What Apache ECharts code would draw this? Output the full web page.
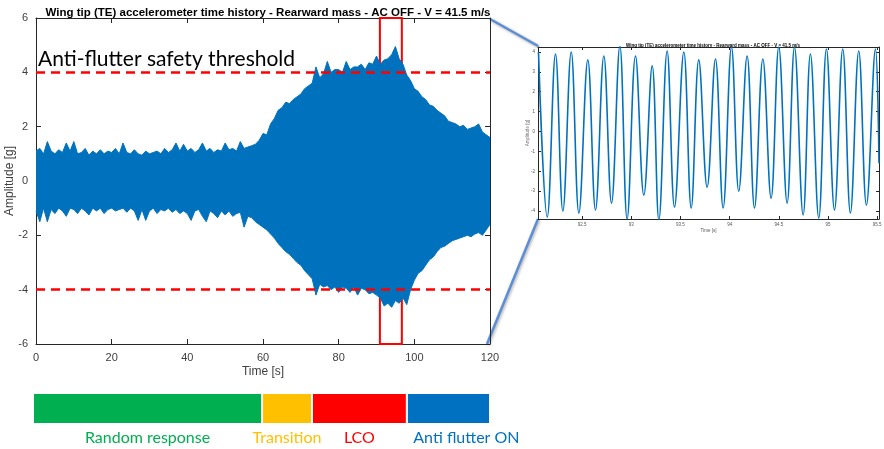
<!DOCTYPE html>
<html>
<head>
<meta charset="utf-8">
<script src="https://cdn.jsdelivr.net/npm/echarts@6/dist/echarts.min.js"></script>
<style>
    html, body { margin: 0; padding: 0; background: #fff; }
    #main { width: 884px; height: 449px; }
</style>
</head>
<body>
<div id="main"></div>
<script>
const BLUE = '#0072BD';

// envelope of the accelerometer signal, one value per second (t = 0..120 s)
const envTime = [];
for (let t = 0; t <= 120; t++) envTime.push(t);

const envUpper = [
    1.1, 1.2, 1.0, 1.45, 1.1, 1.0, 1.15, 1.05, 1.4, 1.1,
    1.45, 1.0, 1.05, 1.2, 0.95, 1.1, 1.0, 1.15, 1.0, 1.1,
    1.05, 1.2, 1.0, 1.4, 1.05, 1.0, 1.15, 1.0, 0.95, 1.1,
    1.0, 1.05, 1.1, 1.0, 1.2, 1.05, 1.15, 1.4, 1.1, 1.35,
    1.1, 1.2, 1.05, 1.15, 1.4, 1.1, 1.2, 1.05, 1.15, 1.1,
    1.4, 1.15, 1.2, 1.1, 1.45, 1.2, 1.25, 1.3, 1.35, 1.5,
    1.75, 1.7, 2.1, 2.3, 2.6, 2.7, 2.9, 2.85, 3.0, 3.1,
    3.2, 3.4, 3.5, 3.6, 4.2, 3.8, 3.95, 4.4, 4.0, 4.1,
    4.1, 4.0, 4.4, 4.1, 4.2, 4.2, 4.3, 4.1, 4.35, 4.3,
    4.6, 4.3, 4.45, 4.5, 4.65, 4.95, 4.5, 4.3, 3.9, 3.7,
    3.4, 3.3, 3.1, 3.0, 2.8, 2.75, 2.6, 2.5, 2.4, 2.2,
    2.15, 2.1, 2.0, 2.05, 1.9, 1.95, 2.0, 2.1, 1.8, 1.7,
    1.6
];

const envLower = [
    -1.1, -1.5, -1.0, -1.5, -1.05, -1.2, -1.0, -1.1, -1.3, -1.0,
    -1.05, -1.2, -1.0, -1.1, -1.25, -1.0, -1.1, -1.0, -1.2, -1.05,
    -1.0, -1.1, -1.05, -1.0, -1.15, -1.0, -1.1, -1.45, -1.05, -1.45,
    -1.1, -1.0, -1.2, -1.05, -1.1, -1.0, -1.15, -1.05, -1.2, -1.1,
    -1.2, -1.45, -1.1, -1.05, -1.3, -1.5, -1.1, -1.2, -1.35, -1.1,
    -1.25, -1.1, -1.3, -1.2, -1.15, -1.7, -1.3, -1.35, -1.5, -1.6,
    -1.7, -1.8, -1.95, -2.1, -2.3, -2.45, -2.6, -2.7, -2.85, -3.0,
    -3.1, -3.3, -3.45, -3.6, -4.2, -3.8, -3.9, -3.85, -4.0, -3.9,
    -4.1, -3.9, -3.95, -4.1, -3.9, -4.2, -3.95, -4.0, -4.15, -4.1,
    -4.2, -4.3, -4.6, -4.5, -4.65, -4.4, -4.5, -4.3, -4.55, -4.0,
    -3.65, -3.4, -3.3, -3.1, -2.9, -2.8, -2.6, -2.45, -2.4, -2.3,
    -2.2, -2.15, -2.1, -2.05, -2.0, -2.05, -1.95, -1.9, -2.0, -1.8,
    -1.6
];

const threshold = 4;
const zoomWindow = [90.9, 96.7];

// LCO detail (peaks and troughs)
const lcoTime = [
    92.055, 92.144, 92.228, 92.303, 92.388, 92.466, 92.557, 92.635, 92.720, 92.798,
    92.883, 92.957, 93.042, 93.127, 93.212, 93.280, 93.364, 93.439, 93.534, 93.609,
    93.686, 93.771, 93.856, 93.934, 94.019, 94.093, 94.178, 94.253, 94.338, 94.422,
    94.500, 94.585, 94.660, 94.748, 94.822, 94.907, 94.985, 95.067, 95.151, 95.229,
    95.314, 95.392, 95.484, 95.52
];
const lcoValue = [
    4.0, -4.3, 3.9, -4.0, 4.0, -4.1, 3.6, -3.95, 3.8, -3.6,
    4.3, -4.4, 3.8, -3.2, 3.3, -4.45, 4.05, -3.8, 4.0, -3.85,
    3.6, -2.8, 3.65, -3.85, 4.25, -3.0, 3.8, -3.85, 3.65, -3.35,
    4.25, -3.6, 4.25, -4.2, 3.9, -4.35, 4.15, -3.95, 4.15, -4.1,
    4.05, -3.7, 4.15, -1.6
];
const insetXTicks = [92.5, 93, 93.5, 94, 94.5, 95, 95.5];
const insetYTicks = [-4, -3, -2, -1, 0, 1, 2, 3, 4];

// test phases (durations in s)
const phaseNames = ['Random response', 'Transition', 'LCO', 'Anti flutter ON'];
const phaseDuration = [60.6, 13.2, 25.1, 22.0];
const phaseColors = ['#00B050', '#FFC000', '#FF0000', '#0070C0'];

const zip = (a, b) => a.map((v, i) => [v, b[i]]);

let chart = echarts.init(document.getElementById('main'));

const boxAxis = (grid, pos, min, max, extra) => Object.assign({
    type: 'value', gridIndex: grid, position: pos, min: min, max: max,
    axisLine: {show: true, onZero: false, lineStyle: {color: '#262626', width: 1}},
    axisTick: {show: true, inside: true, length: 5, lineStyle: {color: '#262626'}},
    axisLabel: {show: false},
    splitLine: {show: false}
}, extra || {});

const mainLabel = {show: true, color: '#404040', fontSize: 11, fontFamily: 'Liberation Sans'};
const insetLabel = {show: true, color: '#555', fontSize: 4.5, fontFamily: 'Liberation Sans', margin: 3};

let option = {
    animation: false,
    title: [
        {
            text: 'Wing tip (TE) accelerometer time history - Rearward mass - AC OFF - V = 41.5 m/s',
            left: 263, top: 2, textAlign: 'center',
            textStyle: {fontSize: 11.5, fontWeight: 'bold', color: '#000', fontFamily: 'Liberation Sans'}
        },
        {
            text: 'Wing tip (TE) accelerometer time history - Rearward mass - AC OFF - V = 41.5 m/s',
            left: 708, top: 38, textAlign: 'center',
            textStyle: {fontSize: 4.5, fontWeight: 'bold', color: '#000', fontFamily: 'Liberation Sans'}
        }
    ],
    grid: [
        {left: 36, top: 18, right: 394, bottom: 105, outerBoundsMode: 'none', containLabel: false},
        {left: 538, top: 47, right: 5, bottom: 230, outerBoundsMode: 'none', containLabel: false},
        {left: 33, top: 393, right: 394, bottom: 25, outerBoundsMode: 'none', containLabel: false}
    ],
    xAxis: [
        boxAxis(0, 'bottom', 0, 120, {
            interval: 20, axisLabel: mainLabel,
            name: 'Time [s]', nameLocation: 'middle', nameGap: 22, nameMoveOverlap: false,
            nameTextStyle: {fontSize: 12, color: '#404040', fontFamily: 'Liberation Sans'}
        }),
        boxAxis(0, 'top', 0, 120, {interval: 20}),
        boxAxis(1, 'bottom', 92.05, 95.52, {
            axisTick: {show: true, inside: true, length: 3, customValues: insetXTicks, lineStyle: {color: '#262626'}},
            axisLabel: Object.assign({customValues: insetXTicks}, insetLabel),
            name: 'Time [s]', nameLocation: 'middle', nameGap: 9, nameMoveOverlap: false,
            nameTextStyle: {fontSize: 4.5, color: '#555', fontFamily: 'Liberation Sans'}
        }),
        boxAxis(1, 'top', 92.05, 95.52, {
            axisTick: {show: true, inside: true, length: 3, customValues: insetXTicks, lineStyle: {color: '#262626'}}
        }),
        {type: 'value', gridIndex: 2, min: 0, max: 120.9, show: false}
    ],
    yAxis: [
        boxAxis(0, 'left', -6, 6, {
            interval: 2, axisLabel: mainLabel,
            name: 'Amplitude [g]', nameLocation: 'middle', nameGap: 20, nameMoveOverlap: false,
            nameTextStyle: {fontSize: 12, color: '#404040', fontFamily: 'Liberation Sans'}
        }),
        boxAxis(0, 'right', -6, 6, {interval: 2}),
        boxAxis(1, 'left', -4.4, 4.25, {
            axisTick: {show: true, inside: true, length: 3, customValues: insetYTicks, lineStyle: {color: '#262626'}},
            axisLabel: Object.assign({customValues: insetYTicks}, insetLabel),
            name: 'Amplitude [g]', nameLocation: 'middle', nameGap: 8, nameMoveOverlap: false,
            nameTextStyle: {fontSize: 4.5, color: '#777', fontFamily: 'Liberation Sans'}
        }),
        boxAxis(1, 'right', -4.4, 4.25, {
            axisTick: {show: true, inside: true, length: 3, customValues: insetYTicks, lineStyle: {color: '#262626'}}
        }),
        {type: 'category', gridIndex: 2, data: ['phase'], show: false}
    ],
    series: [
        {
            type: 'line', xAxisIndex: 0, yAxisIndex: 0,
            data: zip(envTime, envUpper), symbol: 'none',
            lineStyle: {color: BLUE, width: 1}, areaStyle: {color: BLUE, opacity: 1}
        },
        {
            type: 'line', xAxisIndex: 0, yAxisIndex: 0,
            data: zip(envTime, envLower), symbol: 'none',
            lineStyle: {color: BLUE, width: 1}, areaStyle: {color: BLUE, opacity: 1},
            markLine: {
                silent: true, symbol: 'none', label: {show: false},
                lineStyle: {color: '#FF0000', width: 2.5, type: [9, 6]},
                data: [{yAxis: threshold}, {yAxis: -threshold}]
            },
            markArea: {
                silent: true,
                itemStyle: {color: 'rgba(0,0,0,0)', borderColor: '#FF0000', borderWidth: 2},
                data: [[{xAxis: zoomWindow[0]}, {xAxis: zoomWindow[1]}]]
            }
        },
        {
            type: 'line', xAxisIndex: 2, yAxisIndex: 2,
            data: zip(lcoTime, lcoValue), symbol: 'none', smooth: 0.4,
            lineStyle: {color: BLUE, width: 1.6}
        }
    ].concat(phaseNames.map((name, i) => ({
        type: 'bar', name: name, xAxisIndex: 4, yAxisIndex: 4, stack: 'phase',
        barWidth: 31, data: [phaseDuration[i]],
        itemStyle: {color: phaseColors[i], borderColor: '#fff', borderWidth: 1},
        label: {
            show: true, position: 'bottom', distance: 6,
            offset: i === 3 ? [18, 0] : [0, 0],
            formatter: name, color: phaseColors[i], fontSize: 16, fontFamily: 'Lato'
        }
    }))),
    graphic: [
        {
            type: 'text', left: 38, top: 49,
            style: {text: 'Anti-flutter safety threshold', fontSize: 21, fontFamily: 'Lato', fill: '#000'}
        },
        {
            type: 'line', shape: {x1: 490, y1: 19, x2: 538, y2: 46},
            style: {stroke: '#5B8ED6', lineWidth: 2.5, shadowBlur: 3, shadowColor: 'rgba(0,0,0,0.35)', shadowOffsetX: 1, shadowOffsetY: 1}
        },
        {
            type: 'line', shape: {x1: 487, y1: 344, x2: 538, y2: 219},
            style: {stroke: '#5B8ED6', lineWidth: 2.5, shadowBlur: 3, shadowColor: 'rgba(0,0,0,0.35)', shadowOffsetX: 1, shadowOffsetY: 1}
        }
    ]
};

option && chart.setOption(option);
</script>
</body>
</html>
